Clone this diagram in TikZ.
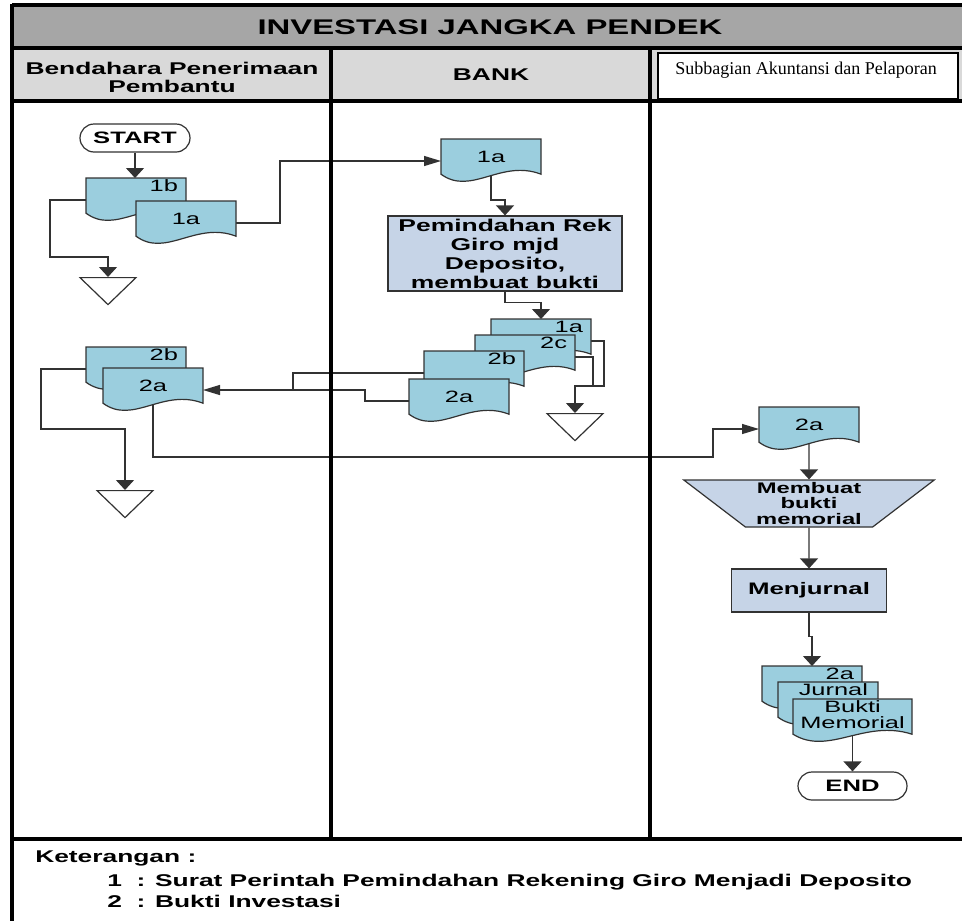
\documentclass[tikz,border=0pt]{standalone}
\usepackage{fontspec}
\usepackage{tikz}
\usetikzlibrary{shapes.geometric, arrows.meta, backgrounds}
\newfontfamily\wsans{Liberation Sans}[FakeStretch=1.55]
\newfontfamily\tnr{Liberation Serif}
\definecolor{docblue}{RGB}{155,206,222}
\definecolor{procblue}{RGB}{198,212,231}
\definecolor{titlegray}{RGB}{166,166,166}
\definecolor{headgray}{RGB}{217,217,217}
\definecolor{edge}{RGB}{50,50,50}

% document symbol: straight top and sides, wavy bottom
\newdimen\docx \newdimen\docy \newdimen\docw \newdimen\doch
\newcommand\docpt[2]{\pgfpointadd{\pgfqpoint{\docx}{\docy}}{\pgfqpoint{#1\docw}{#2\doch}}}
\makeatletter
\pgfdeclareshape{wavedoc}{
  \inheritsavedanchors[from=rectangle]
  \inheritanchorborder[from=rectangle]
  \inheritanchor[from=rectangle]{center}
  \inheritanchor[from=rectangle]{text}
  \inheritanchor[from=rectangle]{base}
  \inheritanchor[from=rectangle]{north}
  \inheritanchor[from=rectangle]{south}
  \inheritanchor[from=rectangle]{east}
  \inheritanchor[from=rectangle]{west}
  \inheritanchor[from=rectangle]{north east}
  \inheritanchor[from=rectangle]{north west}
  \inheritanchor[from=rectangle]{south east}
  \inheritanchor[from=rectangle]{south west}
  \backgroundpath{
    \southwest \docx=\pgf@x \docy=\pgf@y
    \northeast \docw=\pgf@x \doch=\pgf@y
    \advance\docw by -\docx \advance\doch by -\docy
    \pgfpathmoveto{\docpt{0}{1}}
    \pgfpathlineto{\docpt{1}{1}}
    \pgfpathlineto{\docpt{1}{0.2}}
    \pgfpathcurveto{\docpt{0.6}{0.55}}{\docpt{0.3}{-0.3}}{\docpt{0}{0.2}}
    \pgfpathclose
  }
}
\makeatother

\tikzstyle{lane} = [line width=3pt, black]
\tikzstyle{doc} = [shape=wavedoc, draw=edge, fill=docblue, line width=0.9pt, minimum width=75pt, minimum height=33pt, inner sep=0pt, outer sep=0pt, align=center, text depth=6pt, font=\wsans\fontsize{12.3}{12}\selectfont]
\tikzstyle{stackdoc} = [doc, text width=63pt, align=right, text depth=21pt]
\tikzstyle{process} = [rectangle, draw=edge, fill=procblue, line width=0.9pt, align=center, inner sep=0pt, font=\wsans\bfseries\fontsize{12.8}{14.25}\selectfont]
\tikzstyle{manual} = [trapezium, trapezium stretches=true, shape border rotate=180, trapezium left angle=39.5, trapezium right angle=39.5, draw=edge, fill=procblue, line width=0.9pt, minimum width=188.25pt, minimum height=35.25pt, inner sep=0pt, align=center, font=\wsans\bfseries\fontsize{11.5}{11.6}\selectfont]
\tikzstyle{terminal} = [rectangle, rounded corners=10.5pt, draw=edge, fill=white, line width=0.9pt, minimum width=82.5pt, minimum height=21pt, inner sep=0pt, font=\wsans\bfseries\fontsize{12.4}{14}\selectfont]
\tikzstyle{store} = [isosceles triangle, isosceles triangle stretches, shape border rotate=270, draw=edge, fill=white, line width=0.9pt, minimum width=42pt, minimum height=20.25pt, inner sep=0pt]
\tikzstyle{head} = [align=center, font=\wsans\bfseries\fontsize{12.75}{13.5}\selectfont]
\tikzstyle{legend} = [anchor=west, inner sep=0pt, font=\wsans\bfseries\fontsize{12.75}{14}\selectfont]
\tikzstyle{line} = [draw=edge, line width=0.9pt]
\tikzstyle{harrow} = [line, -{Triangle[length=12.75pt,width=7.5pt]}]
\tikzstyle{varrow} = [line, -{Triangle[length=7.5pt,width=13.5pt]}]

\begin{document}
\begin{tikzpicture}[x=0.75pt, y=-0.75pt]
        \useasboundingbox (0,0) rectangle (962,921);
        % frame and lanes
        \fill [titlegray] (12,5) rectangle (962,48);
        \fill [headgray] (12,48) rectangle (962,101);
        \draw [line width=1.5pt, fill=white] (658,53) rectangle (958,99);
        \draw [lane] (12,5) -- (962,5);
        \draw [lane] (12,48) -- (962,48);
        \draw [lane] (12,101) -- (962,101);
        \draw [lane] (12,839) -- (962,839);
        \draw [lane] (12,3.5) -- (12,921);
        \draw [lane] (331,48) -- (331,839);
        \draw [lane] (650,48) -- (650,839);

        \node (title) at (490,27) [font=\wsans\bfseries\fontsize{15.9}{18}\selectfont] {INVESTASI JANGKA PENDEK};
        \node (hbend) at (172,77) [head] {Bendahara Penerimaan\\Pembantu};
        \node (hbank) at (491,75) [head] {BANK};
        \node (hsub) at (806,70) [font=\tnr\fontsize{13.5}{15}\selectfont] {Subbagian Akuntansi dan Pelaporan};

        % Bendahara Penerimaan Pembantu
        \node (start) [terminal] at (135,138) {START};
        \node (bnd1b) [stackdoc] at (136,200) {1b};
        \node (bnd1a) [doc] at (186,223) {1a};
        \node (store1) [store, anchor=north] at (108,277) {};
        \node (bnd2b) [stackdoc] at (136,369) {2b};
        \node (bnd2a) [doc] at (153,390) {2a};
        \node (store2) [store, anchor=north] at (125,490) {};

        % BANK
        \node (bnkin) [doc] at (491,161) {1a};
        \node (proc) [process, minimum width=175.5pt, minimum height=56.25pt] at (505,253.5) {Pemindahan Rek\\Giro mjd\\Deposito,\\membuat bukti};
        \node (bnk1a) [stackdoc] at (541,341) {1a};
        \node (bnk2c) [stackdoc] at (525,357) {2c};
        \node (bnk2b) [stackdoc] at (474,373) {2b};
        \node (bnk2a) [doc] at (459,401) {2a};
        \node (store3) [store, anchor=north] at (575,413) {};

        % Subbagian Akuntansi dan Pelaporan
        \node (sub2a) [doc] at (809,429) {2a};
        \node (memo) [manual] at (809,503.5) {Membuat\\bukti\\memorial};
        \node (jurnal) [process, minimum width=116.25pt, minimum height=32.25pt, font=\wsans\bfseries\fontsize{12.5}{14}\selectfont] at (809,590.5) {Menjurnal};
        \node (arsip2a) [stackdoc] at (812,688) {2a};
        \node (arsipjur) [stackdoc, text width=60pt] at (828,704) {Jurnal};
        \node (arsipbm) [doc, minimum width=89.25pt, text depth=9pt] at (852.5,721) {Bukti\\Memorial};
        \node (end) [terminal, minimum width=81.75pt] at (852.5,786) {END};

        % legend
        \node (ket) [legend] at (35,858) {Keterangan :};
        \node (ket1) [legend] at (107,882) {1~~: Surat Perintah Pemindahan Rekening Giro Menjadi Deposito};
        \node (ket2) [legend] at (107,901) {2~~: Bukti Investasi};

        \begin{scope}[on background layer]
        \draw [varrow] (start) -- (start |- bnd1b.north);
        \draw [varrow] (bnd1b.west) -- ++(-36,0) -- ++(0,57) -| (store1.north);
        \draw [harrow] (bnd1a.east) -- ++(44,0) |- (bnkin.west);
        \draw [varrow] (bnkin.center) -- ++(0,39) -| (proc.north);
        \draw [varrow] (proc.south) -- ++(0,11) -| (bnk1a.north);
        \draw [varrow] (bnk1a.east) -- ++(13,0) -- ++(0,45) -| (store3.north);
        \draw [line] (bnk2c.east) -- ++(18,0) -- ++(0,29);
        \draw [line] (bnk2b.west) -- ++(-131,0) -- ++(0,17);
        \draw [harrow] (bnk2a.west) -- ++(-44,0) |- (bnd2a.east);
        \draw [varrow] (bnd2b.west) -- ++(-45,0) -- ++(0,60) -| (store2.north);
        \draw [harrow] (bnd2a.center) -- ++(0,67) -- ++(560,0) |- (sub2a.west);
        \draw [varrow] (sub2a.center) -- (memo.north);
        \draw [varrow] (memo.south) -- (jurnal.north);
        \draw [varrow] (jurnal.south) -- ++(0,24) -| (arsip2a.north);
        \draw [varrow] (arsipbm.center) -- (end.north);
        \end{scope}
    \end{tikzpicture}
\end{document}
